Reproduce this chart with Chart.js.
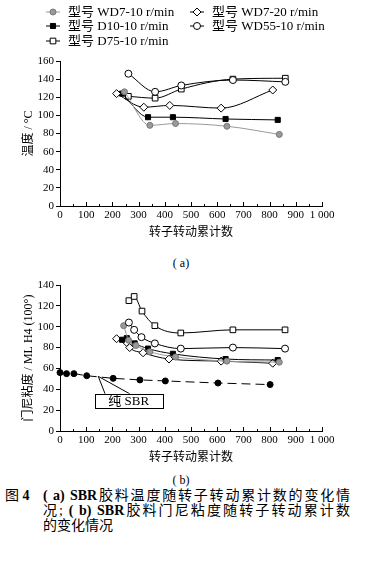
<!DOCTYPE html>
<html>
<head>
<meta charset="utf-8">
<script src="https://cdn.jsdelivr.net/npm/chart.js@4"></script>
<style>
  body { margin: 0; width: 370px; height: 571px; background: #fff; position: relative; overflow: hidden;
         font-family: "Liberation Serif", "Noto Sans CJK SC", serif; color: #000; }
  #wrapA { position: absolute; left: 0; top: 0; width: 370px; height: 240px; }
  #wrapB { position: absolute; left: 0; top: 275px; width: 370px; height: 190px; }
  .sub { position: absolute; left: 0; width: 362px; text-align: center; font-size: 12px; }
  .cap { position: absolute; font-size: 14px; line-height: 14px; }
  .just { text-align: justify; text-align-last: justify; width: 307px; left: 43px; }
</style>
</head>
<body>
<div id="wrapA"><canvas id="chartA"></canvas></div>
<div class="sub" style="top:256px">( a)</div>
<div id="wrapB"><canvas id="chartB"></canvas></div>
<div class="sub" style="top:473px">( b)</div>

<div class="cap" style="left:5px;top:489px">图 <b>4</b></div>
<div class="cap just" style="top:489px"><b>( a)</b> <b>SBR</b>胶料温度随转子转动累计数的变化情</div>
<div class="cap just" style="top:504px">况; <b>( b)</b> <b>SBR</b>胶料门尼粘度随转子转动累计数</div>
<div class="cap" style="left:43px;top:519px">的变化情况</div>

<script>
// 图例名称
const seriesNames = ['型号 WD7-10 r/min', '型号 WD7-20 r/min', '型号 D10-10 r/min', '型号 WD55-10 r/min', '型号 D75-10 r/min'];

// (a) 温度
const aX_WD7_10 = [246, 343, 441, 637, 837];
const aY_WD7_10 = [126, 89, 91, 88, 79];
const aX_WD7_20 = [216, 320, 419, 615, 812];
const aY_WD7_20 = [124, 109, 111, 108, 128];
const aX_D10 = [237, 336, 431, 632, 831];
const aY_D10 = [124, 98, 98, 96, 95];
const aX_WD55 = [261, 363, 463, 660, 860];
const aY_WD55 = [146, 126, 133, 139, 137];
const aX_D75 = [261, 363, 463, 660, 860];
const aY_D75 = [121, 119, 129, 140, 141];

// (b) 门尼粘度
const bX_WD7_10 = [243, 262, 290, 343, 441, 637, 837];
const bY_WD7_10 = [101, 87, 82, 76, 71, 67, 66];
const bX_WD7_20 = [216, 254, 266, 317, 416, 615, 812];
const bY_WD7_20 = [88.5, 85, 80, 75, 69, 67, 65];
const bX_D10 = [237, 255, 285, 336, 431, 632, 831];
const bY_D10 = [87.5, 89, 84, 79, 74, 69, 68];
const bX_WD55 = [263, 283, 311, 362, 461, 660, 859];
const bY_WD55 = [104, 97, 90, 84, 79, 80, 79];
const bX_D75 = [263, 283, 313, 362, 461, 660, 859];
const bY_D75 = [125, 129, 115, 101, 94, 97, 97];
const bX_SBR = [0, 25, 53, 102, 203, 305, 402, 603, 802];
const bY_SBR = [56, 55, 55, 53, 50.5, 49, 48, 46, 44.5];
const sbrLabel = '纯 SBR';

const xTicks = [0, 100, 200, 300, 400, 500, 600, 700, 800, 900, 1000];

const SERIF = '"Liberation Serif", "Noto Sans CJK SC", serif';

function pts(xs, ys) {
  return xs.map((x, i) => ({ x: x, y: ys[i] }));
}

// 各系列的样式
const styles = [
  { pointStyle: 'circle', radius: 3, bg: '#999', border: '#777', line: '#999' },
  { pointStyle: 'rectRot', radius: 4, bg: '#fff', border: '#000', line: '#000' },
  { pointStyle: 'rect', radius: 3.6, bg: '#000', border: '#000', line: '#000' },
  { pointStyle: 'circle', radius: 3.5, bg: '#fff', border: '#000', line: '#000' },
  { pointStyle: 'rect', radius: 4, bg: '#fff', border: '#000', line: '#000' }
];

function makeSet(i, data) {
  const s = styles[i];
  return {
    label: seriesNames[i],
    data: data,
    showLine: true,
    borderColor: s.line,
    borderWidth: 1,
    pointStyle: s.pointStyle,
    pointRadius: s.radius,
    pointBackgroundColor: s.bg,
    pointBorderColor: s.border,
    pointBorderWidth: 1,
    cubicInterpolationMode: 'monotone',
    clip: false
  };
}

// 向内的 x 轴刻度
const innerTicks = {
  id: 'innerTicks',
  afterDraw(chart) {
    const ctx = chart.ctx;
    const xs = chart.scales.x;
    const bottom = chart.chartArea.bottom;
    ctx.save();
    ctx.strokeStyle = '#000';
    ctx.lineWidth = 1;
    for (let v = 0; v <= 1000; v += 50) {
      const px = Math.round(xs.getPixelForValue(v)) + 0.5;
      const len = v % 100 === 0 ? 4 : 2;
      ctx.beginPath();
      ctx.moveTo(px, bottom);
      ctx.lineTo(px, bottom - len);
      ctx.stroke();
    }
    ctx.restore();
  }
};

// 图例 (a)
const legendA = {
  id: 'legendA',
  afterDraw(chart) {
    const ctx = chart.ctx;
    const cols = [53, 197];
    const rows = [12, 26, 41];
    ctx.save();
    ctx.font = '13px ' + SERIF;
    ctx.textBaseline = 'middle';
    chart.data.datasets.forEach((ds, i) => {
      const cx = cols[i % 2];
      const cy = rows[Math.floor(i / 2)];
      ctx.strokeStyle = ds.borderColor;
      ctx.lineWidth = 1;
      ctx.beginPath();
      ctx.moveTo(cx - 7, cy);
      ctx.lineTo(cx + 7, cy);
      ctx.stroke();
      ctx.fillStyle = ds.pointBackgroundColor;
      ctx.strokeStyle = ds.pointBorderColor;
      Chart.helpers.drawPoint(ctx, { pointStyle: ds.pointStyle, radius: ds.pointRadius, borderWidth: 1, rotation: 0 }, cx, cy);
      ctx.fillStyle = '#000';
      ctx.fillText(ds.label, cx + 15, cy + 1);
    });
    ctx.restore();
  }
};

// 纯 SBR 标注
const sbrNote = {
  id: 'sbrNote',
  afterDraw(chart) {
    const ctx = chart.ctx;
    const xs = chart.scales.x, ys = chart.scales.y;
    const ax = xs.getPixelForValue(146), ay = ys.getPixelForValue(52.4);
    const l = xs.getPixelForValue(133), r = xs.getPixelForValue(392);
    const t = ys.getPixelForValue(35.7), b = ys.getPixelForValue(22.2);
    ctx.save();
    ctx.strokeStyle = '#000';
    ctx.lineWidth = 1;
    ctx.beginPath();
    ctx.moveTo(ax, ay);
    ctx.lineTo(xs.getPixelForValue(172), t);
    ctx.moveTo(ax, ay);
    ctx.lineTo(xs.getPixelForValue(266), t);
    ctx.stroke();
    ctx.fillStyle = '#fff';
    ctx.fillRect(l, t, r - l, b - t);
    ctx.strokeRect(Math.round(l) + 0.5, Math.round(t) + 0.5, Math.round(r - l), Math.round(b - t));
    ctx.fillStyle = '#000';
    ctx.font = '13px ' + SERIF;
    ctx.textAlign = 'center';
    ctx.textBaseline = 'middle';
    ctx.fillText(sbrLabel, (l + r) / 2, (t + b) / 2 + 1);
    ctx.restore();
  }
};

function makeOptions(yMax, yTitle, padTop) {
  return {
    responsive: true,
    maintainAspectRatio: false,
    animation: false,
    layout: { padding: { top: padTop, right: 48, left: 22, bottom: 0 } },
    plugins: { legend: { display: false }, tooltip: { enabled: false } },
    scales: {
      x: {
        type: 'linear',
        min: 0,
        max: 1000,
        afterFit: s => { s.height = 34; },
        afterBuildTicks: s => { s.ticks = xTicks.map(v => ({ value: v })); },
        border: { color: '#000', width: 1 },
        grid: { display: false, drawTicks: false },
        ticks: {
          color: '#000',
          padding: 3,
          maxRotation: 0,
          autoSkip: false,
          font: { family: SERIF, size: 11 },
          callback: v => v >= 1000 ? '1 000' : String(v)
        },
        title: { display: true, text: '转子转动累计数', color: '#000', padding: { top: 0, bottom: 0 },
                 font: { family: SERIF, size: 12 } }
      },
      y: {
        min: 0,
        max: yMax,
        afterFit: s => { s.width = 38; },
        border: { color: '#000', width: 1 },
        grid: { drawOnChartArea: false, tickLength: 4, color: '#000' },
        ticks: { stepSize: 20, color: '#000', padding: 2, font: { family: SERIF, size: 11 } },
        title: { display: true, text: yTitle, color: '#000', padding: { top: 0, bottom: 0 },
                 font: { family: SERIF, size: 12 } }
      }
    }
  };
}

new Chart(document.getElementById('chartA'), {
  type: 'scatter',
  data: {
    datasets: [
      makeSet(0, pts(aX_WD7_10, aY_WD7_10)),
      makeSet(1, pts(aX_WD7_20, aY_WD7_20)),
      makeSet(2, pts(aX_D10, aY_D10)),
      makeSet(3, pts(aX_WD55, aY_WD55)),
      makeSet(4, pts(aX_D75, aY_D75))
    ]
  },
  options: makeOptions(160, '温度 / °C', 61),
  plugins: [innerTicks, legendA]
});

const sbrSet = {
  label: sbrLabel,
  data: pts(bX_SBR, bY_SBR),
  showLine: true,
  borderColor: '#000',
  borderWidth: 1,
  borderDash: [9, 5],
  pointStyle: 'circle',
  pointRadius: 3,
  pointBackgroundColor: '#000',
  pointBorderColor: '#000',
  clip: false
};

new Chart(document.getElementById('chartB'), {
  type: 'scatter',
  data: {
    datasets: [
      sbrSet,
      makeSet(4, pts(bX_D75, bY_D75)),
      makeSet(3, pts(bX_WD55, bY_WD55)),
      makeSet(0, pts(bX_WD7_10, bY_WD7_10)),
      makeSet(2, pts(bX_D10, bY_D10)),
      makeSet(1, pts(bX_WD7_20, bY_WD7_20))
    ]
  },
  options: makeOptions(140, '门尼粘度 / ML H4 (100°)', 10),
  plugins: [innerTicks, sbrNote]
});
</script>
</body>
</html>
